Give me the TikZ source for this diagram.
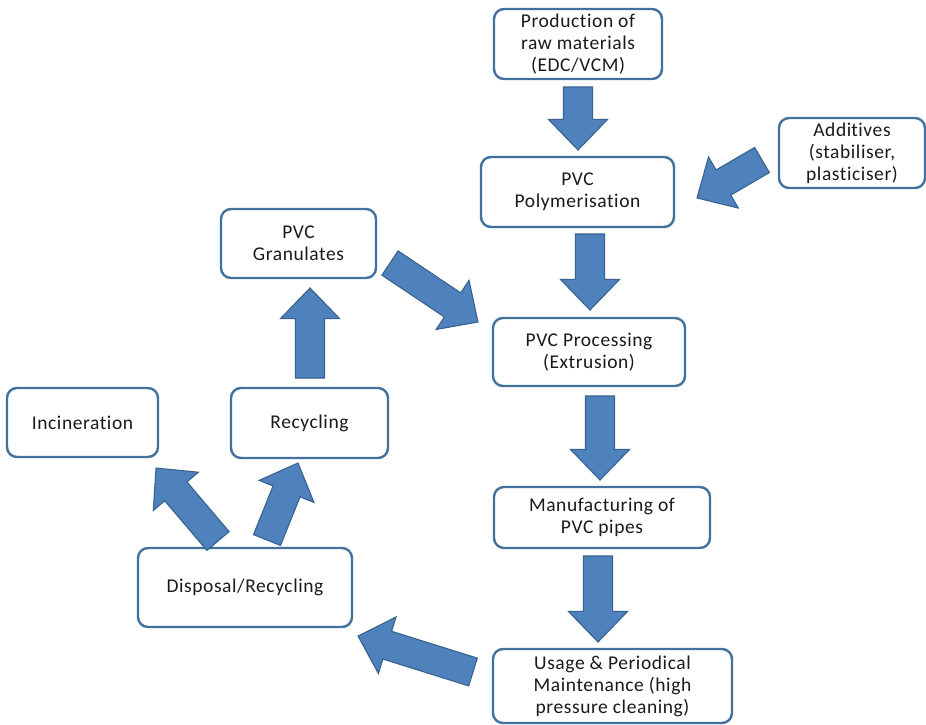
\documentclass[tikz,border=0pt]{standalone}
\usepackage{fontspec}
\setmainfont{Carlito}[LetterSpace=3,Ligatures={NoCommon,NoRare,NoContextual}]
\usetikzlibrary{calc,shapes.arrows}
\definecolor{boxline}{HTML}{41719C}
\definecolor{arrfill}{HTML}{4F81BD}
\definecolor{arrline}{HTML}{36638F}
\definecolor{txt}{HTML}{1A1A1A}
\tikzset{
  stepbox/.style={draw=boxline, line width=2.4pt, rounded corners=10pt, fill=white,
    align=center, inner sep=0pt, outer sep=0pt, text=txt, font=\fontsize{19.5}{22}\selectfont},
  barrow/.style={single arrow, draw=arrline, fill=arrfill, line width=1.1pt,
    inner xsep=0pt, inner ysep=14pt, outer sep=0pt, minimum width=0pt,
    single arrow head extend=15pt, single arrow tip angle=88}
}
\newcommand\blockarr[2]{%
  \path let \p1=($(#2)-(#1)$), \n1={atan2(\y1,\x1)}, \n2={veclen(\x1,\y1)} in
    node[barrow, minimum height=\n2, rotate=\n1, anchor=tail] at (#1) {};}
\begin{document}
\begin{tikzpicture}[x=1pt,y=-1pt]
\useasboundingbox (0,0) rectangle (926,724);
% boxes
\node[stepbox, minimum width=168pt, minimum height=70pt] (prod) at (578,44) {Production of\\raw materials\\(EDC/VCM)};
\node[stepbox, minimum width=193pt, minimum height=70pt] (poly) at (577.5,192) {PVC\\Polymerisation};
\node[stepbox, minimum width=146pt, minimum height=70pt] (add) at (852,153) {Addi\kern0pt tives\\(stabiliser,\\plasticiser)};
\node[stepbox, minimum width=155pt, minimum height=69pt] (gran) at (298.5,243.5) {PVC\\Granulates};
\node[stepbox, minimum width=192pt, minimum height=68pt] (proc) at (589,352) {PVC Processing\\(Extrusion)};
\node[stepbox, minimum width=151pt, minimum height=69pt] (inc) at (82.5,422.5) {Incineration};
\node[stepbox, minimum width=157pt, minimum height=70pt] (rec) at (309.5,423) {Recycling};
\node[stepbox, minimum width=216pt, minimum height=61pt] (manu) at (602,517.5) {Manufacturing of\\PVC pipes};
\node[stepbox, minimum width=214pt, minimum height=79pt] (disp) at (245,587.5) {Disposal/Recycling};
\node[stepbox, minimum width=239pt, minimum height=74pt] (use) at (612.5,686) {Usage \& Periodical\\Maintenance (high\\pressure cleaning)};
% arrow end points
\coordinate (a1s) at (578,87);  \coordinate (a1e) at (578,150);
\coordinate (a2s) at (762,160); \coordinate (a2e) at (697,198);
\coordinate (a3s) at (590,234); \coordinate (a3e) at (590,310);
\coordinate (a4s) at (390,263); \coordinate (a4e) at (478,322);
\coordinate (a5s) at (600,396); \coordinate (a5e) at (600,480);
\coordinate (a6s) at (598,556); \coordinate (a6e) at (598,642);
\coordinate (a7s) at (473,672); \coordinate (a7e) at (358,636);
\coordinate (a8s) at (218,541); \coordinate (a8e) at (156,468);
\coordinate (a9s) at (267,540); \coordinate (a9e) at (298,463);
\coordinate (a10s) at (310,378); \coordinate (a10e) at (310,288);
\blockarr{a1s}{a1e}
\blockarr{a2s}{a2e}
\blockarr{a3s}{a3e}
\blockarr{a4s}{a4e}
\blockarr{a5s}{a5e}
\blockarr{a6s}{a6e}
\blockarr{a7s}{a7e}
\blockarr{a8s}{a8e}
\blockarr{a9s}{a9e}
\blockarr{a10s}{a10e}
\end{tikzpicture}
\end{document}
